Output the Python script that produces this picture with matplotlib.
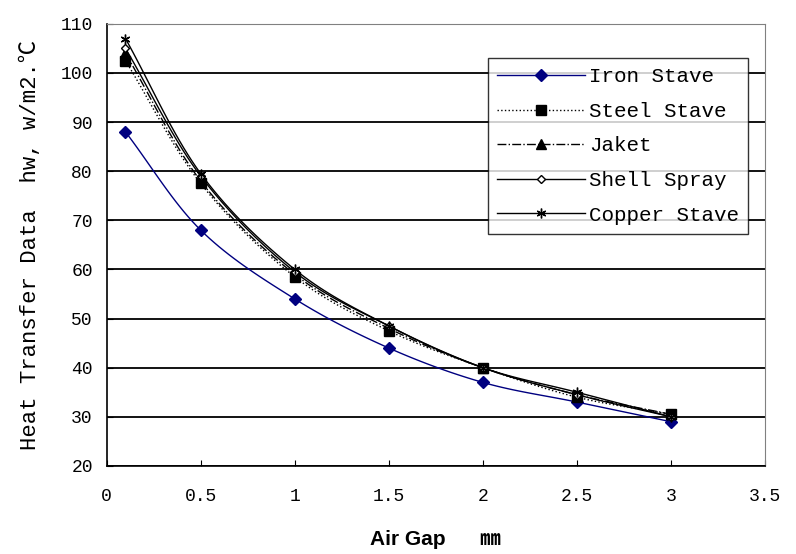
import numpy as np
import matplotlib
matplotlib.use("Agg")
import matplotlib.pyplot as plt

# data
air_gap = [0.1, 0.5, 1.0, 1.5, 2.0, 2.5, 3.0]
iron_stave = [88, 68, 54, 44, 37, 33, 29]
steel_stave = [102.5, 77.5, 58.5, 47.5, 40, 34, 30.5]
jaket = [104, 78, 59, 48, 40, 34.5, 30.5]
shell_spray = [105, 79, 59.5, 48.5, 40, 34.5, 30]
copper_stave = [107, 79.5, 60, 48.5, 40, 35, 30]

series_names = ["Iron Stave", "Steel Stave", "Jaket", "Shell Spray", "Copper Stave"]
x_ticks = [0, 0.5, 1, 1.5, 2, 2.5, 3, 3.5]
x_tick_labels = ["0", "0.5", "1", "1.5", "2", "2.5", "3", "3.5"]
y_ticks = [20, 30, 40, 50, 60, 70, 80, 90, 100, 110]

mono = ["Liberation Mono", "Noto Sans CJK SC", "DejaVu Sans"]


def smooth(xs, ys, n=20):
    # Catmull-Rom curve through the points, like Excel's smoothed line
    xs = np.asarray(xs, float)
    ys = np.asarray(ys, float)
    px = np.concatenate([[2 * xs[0] - xs[1]], xs, [2 * xs[-1] - xs[-2]]])
    py = np.concatenate([[2 * ys[0] - ys[1]], ys, [2 * ys[-1] - ys[-2]]])
    t = np.linspace(0, 1, n)
    ox, oy = [], []
    for i in range(1, len(px) - 2):
        for p, o in ((px, ox), (py, oy)):
            p0, p1, p2, p3 = p[i - 1], p[i], p[i + 1], p[i + 2]
            o.extend(0.5 * (2 * p1 + (-p0 + p2) * t
                            + (2 * p0 - 5 * p1 + 4 * p2 - p3) * t ** 2
                            + (-p0 + 3 * p1 - 3 * p2 + p3) * t ** 3))
    return ox, oy


fig = plt.figure(figsize=(7.96, 5.54), dpi=100)
ax = fig.add_axes([0.134, 0.159, 0.827, 0.798])

asterisk = (6, 2, 0)
styles = [
    dict(color="#000080", ls="-", marker="D", ms=6, mfc="#000080", mec="#000080"),
    dict(color="black", ls=":", marker="s", ms=7, mfc="black", mec="black"),
    dict(color="black", ls="-.", marker="^", ms=7, mfc="black", mec="black"),
    dict(color="black", ls="-", marker="D", ms=4, mfc="white", mec="black"),
    dict(color="black", ls="-", marker=asterisk, ms=7, mfc="black", mec="black"),
]
all_series = [iron_stave, steel_stave, jaket, shell_spray, copper_stave]

handles = []
for name, ys, st in zip(series_names, all_series, styles):
    sx, sy = smooth(air_gap, ys)
    ax.plot(sx, sy, color=st["color"], ls=st["ls"], lw=1, zorder=3)
    ax.plot(air_gap, ys, ls="none", marker=st["marker"], ms=st["ms"],
            mfc=st["mfc"], mec=st["mec"], zorder=4)
    h, = ax.plot([], [], color=st["color"], ls=st["ls"], lw=1, marker=st["marker"],
                 ms=st["ms"], mfc=st["mfc"], mec=st["mec"], label=name)
    handles.append(h)

ax.set_xlim(0, 3.5)
ax.set_ylim(20, 110)
ax.set_xticks(x_ticks)
ax.set_xticklabels(x_tick_labels)
ax.set_yticks(y_ticks)
ax.yaxis.grid(True, color="black", lw=1.3)
ax.set_axisbelow(True)
ax.tick_params(direction="in", length=4, color="black", labelsize=13)
ax.tick_params(axis="x", pad=16)
ax.tick_params(axis="y", pad=10)
for lab in ax.get_xticklabels() + ax.get_yticklabels():
    lab.set_family(mono)

for side in ["top", "right"]:
    ax.spines[side].set_color("#808080")
ax.spines["left"].set_linewidth(1.2)
ax.spines["bottom"].set_linewidth(1.2)

ax.set_ylabel("Heat Transfer Data  hw, w/m2.℃", family=mono, fontsize=16, labelpad=14)
ax.set_xlabel("Air Gap      ㎜", family=["Liberation Sans Narrow", "Liberation Sans", "Noto Sans CJK SC"],
              fontweight="bold", fontsize=15, labelpad=18)

leg = ax.legend(handles=handles, loc="upper left", bbox_to_anchor=(0.579, 0.923),
                prop={"family": mono, "size": 15}, frameon=True, fancybox=False,
                handlelength=4.2, handletextpad=0.2, borderpad=0.45,
                labelspacing=0.75, borderaxespad=0)
leg.get_frame().set_edgecolor("black")
leg.get_frame().set_linewidth(1)

fig.savefig("out.png", dpi=100, facecolor="white")
